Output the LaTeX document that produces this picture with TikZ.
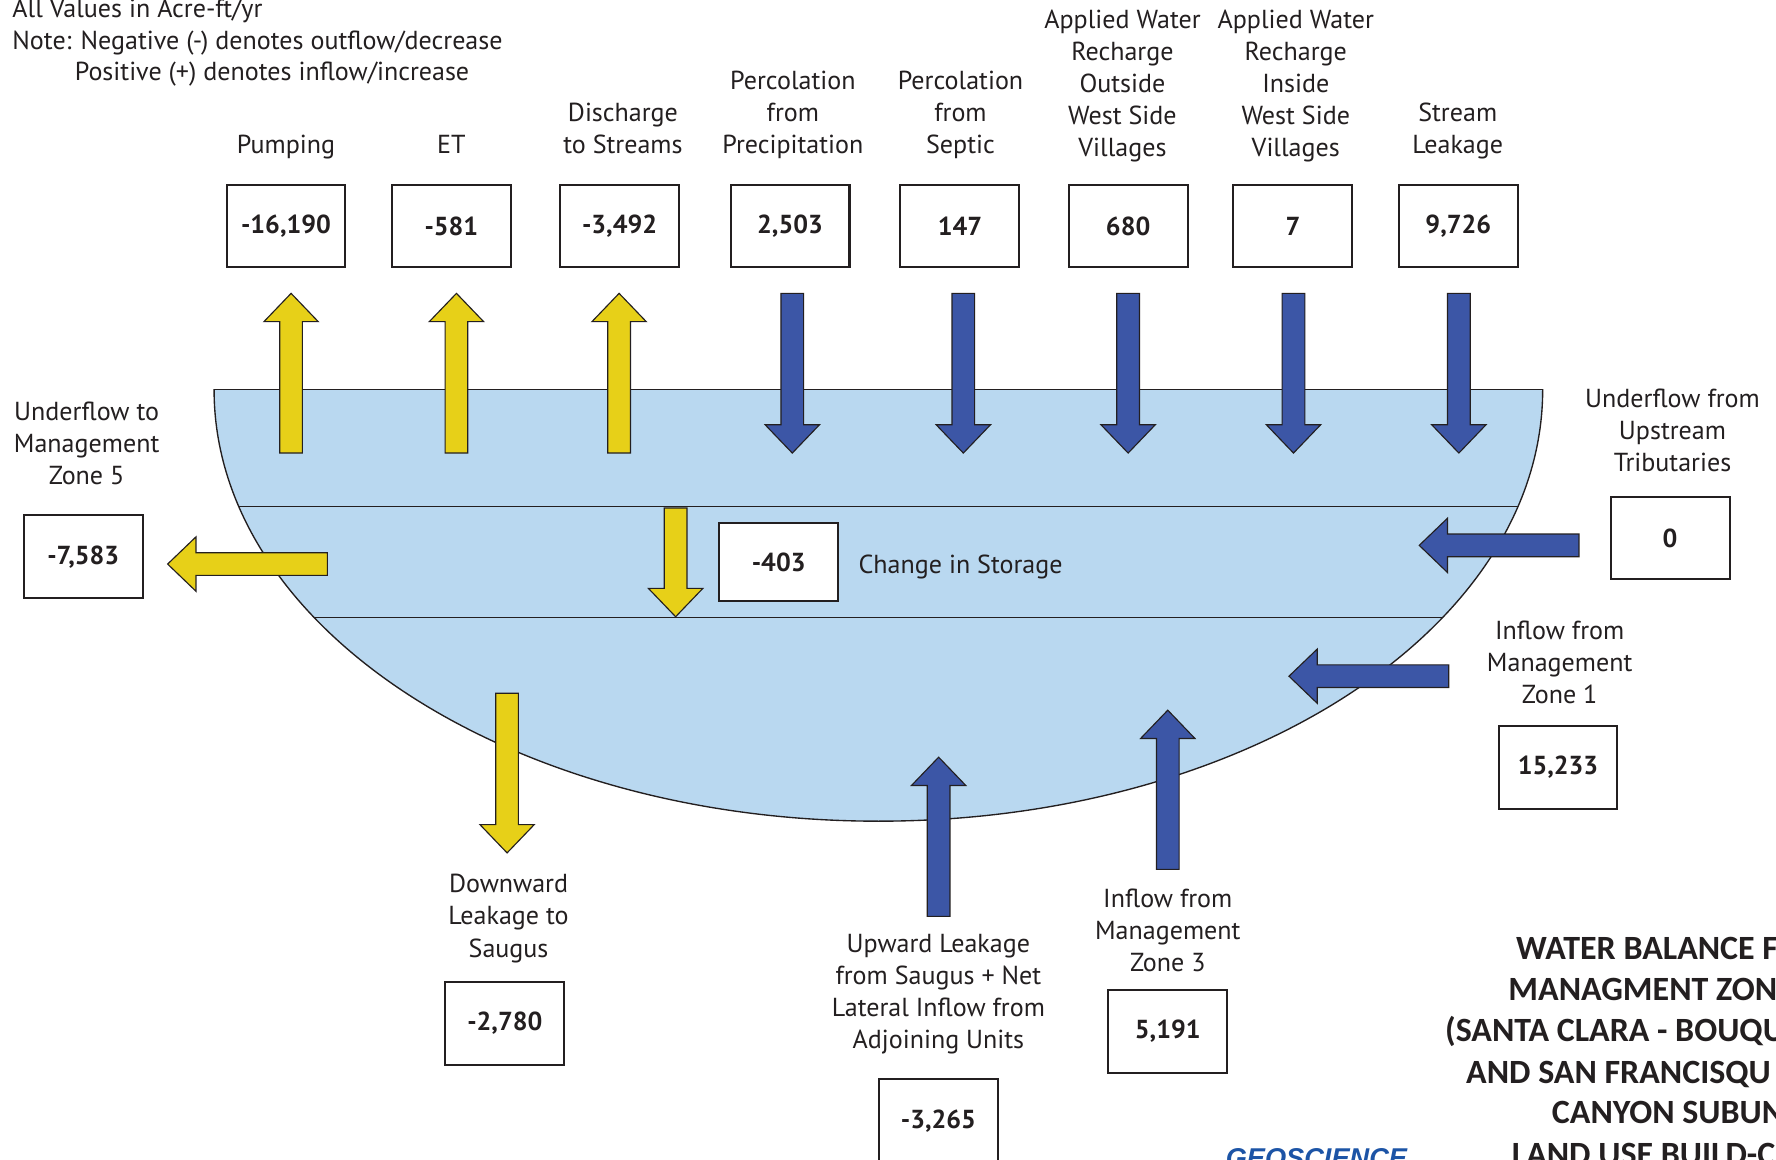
\documentclass[tikz,border=0pt]{standalone}
\usepackage{fontspec}
\setmainfont{PT Sans}
\newfontfamily\titlefont{Carlito}
\newfontfamily\geofont{Liberation Sans}
\definecolor{inkc}{RGB}{35,31,32}
\definecolor{bowlc}{RGB}{185,216,240}
\definecolor{yel}{RGB}{231,208,24}
\definecolor{blu}{RGB}{60,86,166}
\definecolor{geoblue}{RGB}{28,84,166}
\newcommand{\VArrow}[4]{%
  \pgfmathsetmacro\ArrHB{#4-25*sign(#4-#3)}%
  \draw[#1] (#2-10,#3) -- (#2-10,\ArrHB) -- (#2-24,\ArrHB) -- (#2,#4) -- (#2+24,\ArrHB) -- (#2+10,\ArrHB) -- (#2+10,#3) -- cycle;}
\newcommand{\HArrow}[4]{%
  \pgfmathsetmacro\ArrHB{#4-25*sign(#4-#3)}%
  \draw[#1] (#3,#2-10) -- (\ArrHB,#2-10) -- (\ArrHB,#2-24) -- (#4,#2) -- (\ArrHB,#2+24) -- (\ArrHB,#2+10) -- (#3,#2+10) -- cycle;}
\begin{document}
\begin{tikzpicture}[x=1pt,y=-1pt,
  valbox/.style={draw=inkc, line width=1.8pt, fill=white, minimum width=105pt, minimum height=73pt, inner sep=0pt, text=inkc, font=\fontsize{23}{28}\selectfont\bfseries},
  lbl/.style={align=center, inner sep=0pt, text=inkc, font=\fontsize{23}{28.4}\selectfont},
  ttl/.style={inner sep=0pt, anchor=base west, text=inkc, font=\fontsize{30}{36.5}\selectfont\titlefont\bfseries},
  yarrow/.style={fill=yel, draw=inkc, line width=1pt, line join=miter},
  barrow/.style={fill=blu, draw=inkc, line width=1pt, line join=miter},
  bowlline/.style={draw=inkc, line width=1.2pt}]
\useasboundingbox (0,0) rectangle (1568,1024);
\fill[white] (0,0) rectangle (1568,1024);

% bowl
\begin{scope}
  \clip (0,344) rectangle (1568,1100);
  \fill[bowlc] (775.5,344) ellipse [x radius=586.5, y radius=381];
  \draw[bowlline] (775.5,344) ellipse [x radius=586.5, y radius=381];
  \clip (775.5,344) ellipse [x radius=586.5, y radius=381];
  \draw[bowlline] (0,447) -- (1568,447);
  \draw[bowlline] (0,545) -- (1568,545);
\end{scope}
\draw[bowlline] (189,344) -- (1362,344);

% notes
\node[lbl, anchor=base west] (n1) at (10.8,15.3) {All Values in Acre-ft/yr};
\node[lbl, anchor=base west] (n2) at (10.8,43.5) {Note: Negative (-) denotes outflow/decrease};
\node[lbl, anchor=base west] (n3) at (65.9,71.5) {Positive (+) denotes inflow/increase};

% top labels
\node[lbl, anchor=base] (lpump) at (252.5,135.5) {Pumping};
\node[lbl, anchor=base] (let) at (398.5,135.5) {ET};
\node[lbl, anchor=base] (ldis) at (550,135.5) {Discharge\\to Streams};
\node[lbl, anchor=base] (lprec) at (700,135.5) {Percolation\\from\\Precipitation};
\node[lbl, anchor=base] (lsep) at (848,135.5) {Percolation\\from\\Septic};
\node[lbl, anchor=base] (lout) at (991,138.5) {Applied Water\\Recharge\\Outside\\West Side\\Villages};
\node[lbl, anchor=base] (lin) at (1144,138.5) {Applied Water\\Recharge\\Inside\\West Side\\Villages};
\node[lbl, anchor=base] (lstr) at (1287,135.5) {Stream\\Leakage};

% top boxes
\node[valbox] (bpump) at (252.5,199.5) {-16,190};
\node[valbox] (bet) at (398.5,199.5) {-581};
\node[valbox] (bdis) at (547,199.5) {-3,492};
\node[valbox] (bprec) at (697.5,199.5) {2,503};
\node[valbox] (bsep) at (847.5,199.5) {147};
\node[valbox] (bout) at (996,199.5) {680};
\node[valbox] (bin) at (1141.5,199.5) {7};
\node[valbox] (bstr) at (1287.5,199.5) {9,726};

% top arrows
\VArrow{yarrow}{257}{400}{259}
\VArrow{yarrow}{403}{400}{259}
\VArrow{yarrow}{546.6}{400}{259}
\VArrow{barrow}{699.5}{259}{400}
\VArrow{barrow}{850.5}{259}{400}
\VArrow{barrow}{996}{259}{400}
\VArrow{barrow}{1142}{259}{400}
\VArrow{barrow}{1288}{259}{400}

% left side
\node[lbl, anchor=base] (lz5) at (76.5,428) {Underflow to\\Management\\Zone 5};
\node[valbox] (bz5) at (73.5,491.5) {-7,583};
\HArrow{yarrow}{498}{289}{148}

% storage
\VArrow{yarrow}{596.5}{448.5}{544.5}
\node[valbox, minimum height=69pt] (bsto) at (687.5,496.5) {-403};
\node[lbl, anchor=base west] (lsto) at (757.8,506) {Change in Storage};

% right side
\node[lbl, anchor=base] (lup) at (1476.6,416.4) {Underflow from\\Upstream\\Tributaries};
\node[valbox] (bup) at (1474.5,475) {0};
\HArrow{barrow}{481.5}{1394}{1253}
\node[lbl, anchor=base] (lz1) at (1377,621) {Inflow from\\Management\\Zone 1};
\node[valbox] (bz1) at (1375.5,677.5) {15,233};
\HArrow{barrow}{597}{1279}{1138}

% bottom
\VArrow{yarrow}{447.7}{612}{753}
\node[lbl, anchor=base] (ldown) at (449,845) {Downward\\Leakage to\\Saugus};
\node[valbox] (bdown) at (445.7,903.5) {-2,780};
\VArrow{barrow}{828.7}{809}{668.5}
\node[lbl, anchor=base] (lupw) at (828.5,926) {Upward Leakage\\from Saugus + Net\\Lateral Inflow from\\Adjoining Units};
\node[valbox] (bupw) at (828.5,989.5) {-3,265};
\VArrow{barrow}{1031}{767.5}{627}
\node[lbl, anchor=base] (lz3) at (1031,858) {Inflow from\\Management\\Zone 3};
\node[valbox] (bz3) at (1031,910.5) {5,191};

% title
\node[ttl] (t1) at (1338.4,847) {WATER BALANCE F};
\node[ttl] (t2) at (1331.6,883) {MANAGMENT ZON};
\node[ttl] (t3) at (1275.7,919.6) {(SANTA CLARA - BOUQU};
\node[ttl] (t4) at (1294.3,956.4) {AND SAN FRANCISQU};
\node[ttl] (t5) at (1370,992.3) {CANYON SUBUN};
\node[ttl] (t6) at (1334.6,1029) {LAND USE BUILD-C};
\node[inner sep=0pt, anchor=base west, text=geoblue, font=\fontsize{24}{28}\selectfont\geofont\bfseries\itshape] (geo) at (1082,1031) {GEOSCIENCE};
\end{tikzpicture}
\end{document}
